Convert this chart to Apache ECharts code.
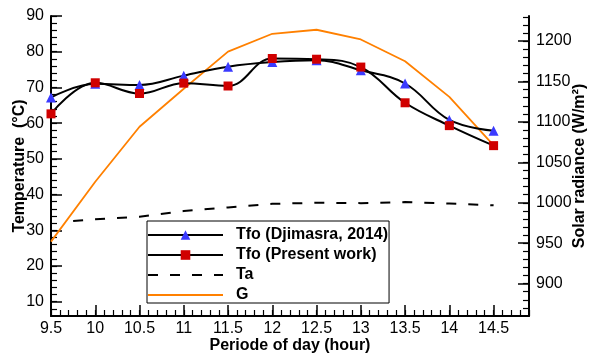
<!DOCTYPE html>
<html>
<head>
<meta charset="utf-8">
<script src="https://cdn.jsdelivr.net/npm/echarts@6/dist/echarts.min.js"></script>
<style>
  html, body { margin: 0; padding: 0; background: #fff; }
  #chart { width: 592px; height: 353px; }
</style>
</head>
<body>
<div id="chart"></div>
<script>
// 数据
var hours = [9.5, 10, 10.5, 11, 11.5, 12, 12.5, 13, 13.5, 14, 14.5];
var tfoDjimasra = [67.2, 71.0, 70.7, 73.3, 75.8, 77.1, 77.6, 74.8, 71.1, 60.9, 57.9];
var tfoPresent = [62.6, 71.3, 68.3, 71.2, 70.4, 78.1, 77.9, 75.7, 65.7, 59.3, 53.7];
var taHours = [9.75, 10, 10.5, 11, 11.5, 12, 12.5, 13, 13.5, 14, 14.5];
var ta = [32.6, 33.1, 33.8, 35.4, 36.4, 37.4, 37.7, 37.6, 37.9, 37.5, 37.0];
var solarG = [952, 1026, 1094, 1141, 1187, 1209, 1214, 1202, 1175, 1131, 1071];

// tick labels
var xTicks = [9.5, 10, 10.5, 11, 11.5, 12, 12.5, 13, 13.5, 14, 14.5];
var tempTicks = [10, 20, 30, 40, 50, 60, 70, 80, 90];
var solarTicks = [900, 950, 1000, 1050, 1100, 1150, 1200];

// minor tick positions
function steps(from, to, step) {
    var arr = [];
    for (var v = from; v <= to + 1e-9; v += step) {
        arr.push(Math.round(v * 100) / 100);
    }
    return arr;
}
var xMinor = steps(9.5, 14.9, 0.1);
var tempMinor = steps(8, 90, 2);
var solarMinor = steps(870, 1230, 10);

function pairs(xs, ys) {
    var out = [];
    for (var i = 0; i < xs.length; i++) { out.push([xs[i], ys[i]]); }
    return out;
}

var FONT = 'Liberation Sans';
var X_MIN = 9.5, X_MAX = 14.9;
var T_MIN = 6, T_MAX = 90;
var G_MIN = 860, G_MAX = 1231;

var myChart = echarts.init(document.getElementById('chart'));

var axisLineStyle = { color: '#000', width: 2 };
var nameStyle = { fontFamily: FONT, fontSize: 16, fontWeight: 'bold', color: '#000' };
var hidden = { color: 'rgba(0,0,0,0)', borderColor: 'rgba(0,0,0,0)', borderWidth: 0 };

var option = {
    animation: false,
    textStyle: { fontFamily: FONT },
    grid: {
        left: 51, right: 63, top: 16, bottom: 37,
        containLabel: false,
        outerBoundsMode: 'none'
    },
    legend: {
        orient: 'vertical',
        left: 147,
        top: 221,
        padding: [6, 1, 0, 0],
        itemWidth: 75,
        itemHeight: 12,
        itemGap: 4,
        borderColor: '#000',
        borderWidth: 1,
        backgroundColor: '#fff',
        textStyle: {
            fontFamily: FONT,
            fontSize: 16,
            fontWeight: 'bold',
            color: '#000',
            lineHeight: 14,
            padding: [0, 0, 0, 8]
        },
        data: [
            'Tfo (Djimasra, 2014)',
            'Tfo (Present work)',
            { name: 'Ta', itemStyle: hidden },
            { name: 'G', itemStyle: hidden }
        ]
    },
    xAxis: [{
        type: 'value',
        min: X_MIN, max: X_MAX,
        position: 'bottom',
        name: 'Periode of day (hour)',
        nameLocation: 'middle',
        nameGap: 22,
        nameMoveOverlap: false,
        nameTextStyle: nameStyle,
        splitLine: { show: false },
        axisLine: { show: true, lineStyle: axisLineStyle },
        axisTick: { show: true, inside: true, length: 11, customValues: xTicks, lineStyle: { color: '#000', width: 1.5 } },
        axisLabel: { customValues: xTicks, margin: 5, fontSize: 16, color: '#000', fontFamily: FONT }
    }, {
        type: 'value',
        min: X_MIN, max: X_MAX,
        position: 'bottom',
        splitLine: { show: false },
        axisLine: { show: false },
        axisTick: { show: true, inside: true, length: 6, customValues: xMinor, lineStyle: { color: '#000', width: 1.2 } },
        axisLabel: { show: false }
    }],
    yAxis: [{
        type: 'value',
        min: T_MIN, max: T_MAX,
        position: 'left',
        name: 'Temperature  (°C)',
        nameLocation: 'middle',
        nameGap: 23,
        nameMoveOverlap: false,
        nameTextStyle: nameStyle,
        splitLine: { show: false },
        axisLine: { show: true, lineStyle: axisLineStyle },
        axisTick: { show: true, inside: true, length: 11, customValues: tempTicks, lineStyle: { color: '#000', width: 1.5 } },
        axisLabel: { customValues: tempTicks, margin: 7, fontSize: 16, color: '#000', fontFamily: FONT }
    }, {
        type: 'value',
        min: G_MIN, max: G_MAX,
        position: 'right',
        name: 'Solar radiance (W/m²)',
        nameLocation: 'middle',
        nameGap: 43,
        nameMoveOverlap: false,
        nameTextStyle: nameStyle,
        splitLine: { show: false },
        axisLine: { show: true, lineStyle: axisLineStyle },
        axisTick: { show: true, inside: true, length: 11, customValues: solarTicks, lineStyle: { color: '#000', width: 1.5 } },
        axisLabel: {
            customValues: solarTicks, margin: 7, fontSize: 16, color: '#000', fontFamily: FONT,
            formatter: function (v) { return String(v); }
        }
    }, {
        type: 'value',
        min: T_MIN, max: T_MAX,
        position: 'left',
        splitLine: { show: false },
        axisLine: { show: false },
        axisTick: { show: true, inside: true, length: 6, customValues: tempMinor, lineStyle: { color: '#000', width: 1.2 } },
        axisLabel: { show: false }
    }, {
        type: 'value',
        min: G_MIN, max: G_MAX,
        position: 'right',
        splitLine: { show: false },
        axisLine: { show: false },
        axisTick: { show: true, inside: true, length: 6, customValues: solarMinor, lineStyle: { color: '#000', width: 1.2 } },
        axisLabel: { show: false }
    }],
    series: [{
        name: 'G',
        type: 'line',
        xAxisIndex: 0, yAxisIndex: 1,
        data: pairs(hours, solarG),
        symbol: 'none',
        lineStyle: { color: '#ff8000', width: 1.8 },
        itemStyle: { color: '#ff8000' }
    }, {
        name: 'Ta',
        type: 'line',
        xAxisIndex: 0, yAxisIndex: 0,
        data: pairs(taHours, ta),
        symbol: 'none',
        lineStyle: { color: '#000', width: 2, type: [10, 12] },
        itemStyle: { color: '#000' }
    }, {
        name: 'Tfo (Djimasra, 2014)',
        type: 'line',
        xAxisIndex: 0, yAxisIndex: 0,
        data: pairs(hours, tfoDjimasra),
        smooth: 0.4,
        symbol: 'triangle',
        symbolSize: 10,
        lineStyle: { color: '#000', width: 2 },
        itemStyle: { color: '#3a3aff' }
    }, {
        name: 'Tfo (Present work)',
        type: 'line',
        xAxisIndex: 0, yAxisIndex: 0,
        data: pairs(hours, tfoPresent),
        smooth: 0.4,
        symbol: 'rect',
        symbolSize: 9,
        lineStyle: { color: '#000', width: 2 },
        itemStyle: { color: '#d00000' }
    }]
};

myChart.setOption(option);
window.onresize = myChart.resize;
</script>
</body>
</html>
